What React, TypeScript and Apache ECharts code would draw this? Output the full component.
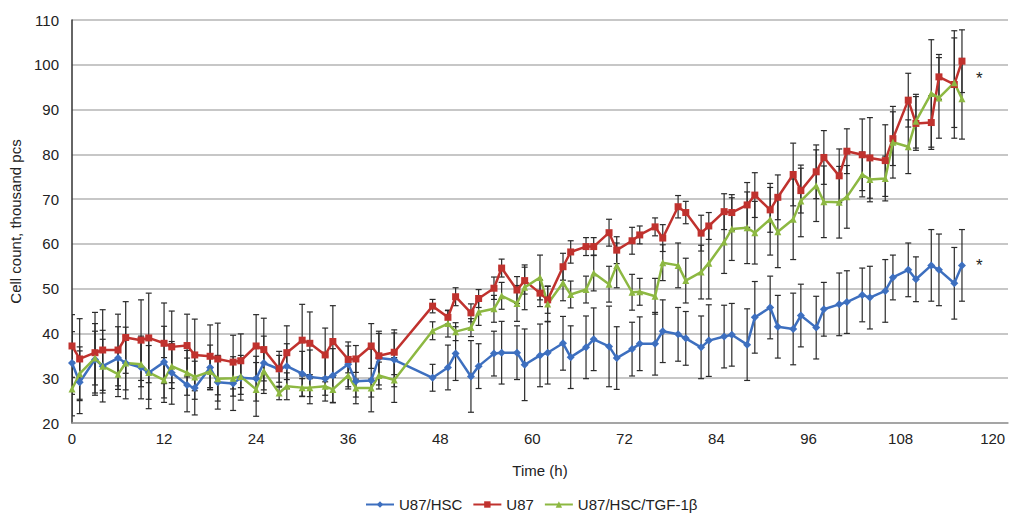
import React, { useEffect, useRef } from "react";
import * as echarts from "echarts";

const times = [0,1,3,4,6,7,9,10,12,13,15,16,18,19,21,22,24,25,27,28,30,31,33,34,36,37,39,40,42,47,49,50,52,53,55,56,58,59,61,62,64,65,67,68,70,71,73,74,76,77,79,80,82,83,85,86,88,89,91,92,94,95,97,98,100,101,103,104,106,107,109,110,112,113,115,116];

const u87hsc = [33.4,29.1,34.2,32.7,34.5,33.4,32.4,31.2,33.6,31.2,28.5,27.8,32.4,29.1,28.8,30.1,29.9,33.4,32.0,32.7,31.0,30.3,29.9,30.6,33.1,29.3,29.5,34.5,34.1,30.1,32.4,35.5,30.4,32.7,35.5,35.7,35.7,33.0,35.1,35.7,37.8,34.7,36.9,38.7,37.1,34.5,36.5,37.7,37.7,40.5,39.8,38.9,36.9,38.4,39.3,39.7,37.5,43.6,45.8,41.5,41.0,44.0,41.3,45.4,46.5,47.0,48.6,48.0,49.5,52.5,54.2,52.1,55.2,54.2,51.2,55.2];
const u87 = [37.2,34.3,35.7,36.3,36.3,39.1,38.5,39.0,37.8,37.0,37.3,35.2,34.9,34.3,33.6,33.9,37.2,36.4,32.1,35.7,38.5,37.8,35.2,38.2,34.2,34.3,37.2,35.0,35.8,46.1,43.6,48.2,44.6,47.8,50.1,54.6,49.7,51.8,49.0,47.5,54.9,58.2,59.4,59.4,62.5,58.6,60.7,62.0,63.8,61.3,68.3,67.0,62.4,64.0,67.2,67.0,68.7,70.9,67.6,70.4,75.5,71.9,76.1,79.3,75.2,80.7,79.9,79.2,78.6,83.5,92.1,86.9,87.1,97.3,95.6,100.8];
const u87tgf = [27.6,31.0,34.5,32.7,30.9,33.4,33.1,31.3,29.6,32.7,31.2,30.3,31.5,29.9,30.0,30.4,27.5,31.6,26.7,28.2,27.9,27.9,28.2,27.5,30.6,27.8,27.8,30.6,29.6,40.6,42.2,40.4,41.3,44.8,45.5,48.4,46.7,50.3,52.5,46.6,51.3,48.7,49.8,53.5,51.0,55.2,49.2,49.3,48.3,55.8,55.2,51.8,53.7,55.7,60.4,63.3,63.6,62.5,65.5,62.7,65.5,69.6,73.0,69.4,69.3,70.5,75.5,74.4,74.6,82.7,81.7,87.4,93.6,92.6,96.0,92.4];

const errHsc = [7,7,8,8,7,8,7,8,8,7,6,6,5,6,6,5,5,6,4,5,5,6,5,6,5,5,7,6,6,3,5,6,8,5,5,7,6,8,7,7,6,7,7,7,9,7,6,6,7,7,6,6,7,8,7,7,8,8,7,7,8,7,7,6,7,7,6,7,7,5,6,5,8,8,8,8];
const errU87 = [7,9,9,9,8,8,9,10,9,8,7,8,7,8,6,6,7,7,3,6,8,7,6,8,3,3,5,5,5,1.5,1.5,2,2,2,2.5,2,3,3,3,3,3,2.5,2,2,3,3,3,2,2,3,2.5,2.5,4,3,4,4,5,5,5,5,7,5,6,6,6,5,8,9,8,6,6,6,6,5,12,7];
const errTgf = [6,6,6,6,5,6,5,6,5,5,5,5,4,5,4,4,6,5,1.5,3,2,2,2,3,3,2,2,3,5,2,3,2,2,3,3,3,4,5,5,4,4,3,3,4,4,5,4,3,4,4,5,5,6,8,7,7,8,7,8,8,9,8,8,8,8,7,5,5,5,8,6,6,12,9,10,9];

const xTicks = [0, 12, 24, 36, 48, 60, 72, 84, 96, 108, 120];
const names = ["U87/HSC", "U87", "U87/HSC/TGF-1\u03b2"];
const colors = ["#3d6fbf", "#c0322e", "#8db842"];

const FONT = "Liberation Sans, Arial, sans-serif";

function errSeries(name: string, vals: number[], errs: number[]) {
  return {
    name,
    type: "custom",
    clip: true,
    z: 1,
    encode: { x: 0, y: [1, 2] },
    data: times.map((t, i) => [t, vals[i] - errs[i], vals[i] + errs[i]]),
    renderItem: (params: any, api: any) => {
      const x = api.value(0);
      const lo = api.value(1);
      const hi = api.value(2);
      const p1 = api.coord([x, hi]);
      const p2 = api.coord([x, lo]);
      const w = 3;
      const style = { stroke: "#2a2a2a", lineWidth: 1.2 };
      return {
        type: "group",
        children: [
          { type: "line", shape: { x1: p1[0], y1: p1[1], x2: p2[0], y2: p2[1] }, style },
          { type: "line", shape: { x1: p1[0] - w, y1: p1[1], x2: p1[0] + w, y2: p1[1] }, style },
          { type: "line", shape: { x1: p2[0] - w, y1: p2[1], x2: p2[0] + w, y2: p2[1] }, style },
        ],
      };
    },
  };
}

function lineSeries(idx: number, vals: number[], symbol: string, size: number) {
  return {
    name: names[idx],
    type: "line",
    z: 3,
    symbol,
    symbolSize: size,
    showSymbol: true,
    color: colors[idx],
    lineStyle: { width: 2.5, color: colors[idx] },
    itemStyle: { color: colors[idx] },
    data: times.map((t, i) => [t, vals[i]]),
  };
}

export default function App() {
  const ref = useRef<HTMLDivElement>(null);
  useEffect(() => {
    if (!ref.current) return;
    const chart = echarts.init(ref.current, undefined, { renderer: "svg" });
    chart.setOption({
      animation: false,
      backgroundColor: "#ffffff",
      textStyle: { fontFamily: FONT },
      grid: { left: 72, right: 1, top: 20, bottom: 93 },
      legend: {
        data: names,
        left: 360,
        top: 492,
        itemWidth: 28,
        itemHeight: 8,
        itemGap: 10,
        textStyle: { fontSize: 15, color: "#222", fontFamily: FONT },
      },
      xAxis: {
        type: "value",
        min: 0,
        max: 122,
        interval: 12,
        name: "Time (h)",
        nameLocation: "middle",
        nameGap: 40,
        nameTextStyle: { fontSize: 15, color: "#222", fontFamily: FONT },
        axisLine: { show: true, lineStyle: { color: "#9a9a9a", width: 1.5 } },
        axisTick: { show: false },
        splitLine: { show: false },
        axisLabel: {
          fontSize: 15,
          color: "#222",
          margin: 8,
          fontFamily: FONT,
          formatter: (v: number) => (xTicks.indexOf(v) >= 0 ? String(v) : ""),
        },
      },
      yAxis: {
        type: "value",
        min: 20,
        max: 110,
        interval: 10,
        name: "Cell count, thousand pcs",
        nameLocation: "middle",
        nameRotate: 90,
        nameGap: 47,
        nameTextStyle: { fontSize: 15, color: "#222", fontFamily: FONT },
        axisLine: { show: true, lineStyle: { color: "#333", width: 1.5 } },
        axisTick: { show: false },
        splitLine: { show: true, lineStyle: { color: "#b4b4b4", width: 1.5 } },
        axisLabel: { fontSize: 15, color: "#222", margin: 13, fontFamily: FONT },
      },
      graphic: [
        { type: "text", left: 976, top: 70, style: { text: "*", fontSize: 17, fill: "#222", fontFamily: FONT } },
        { type: "text", left: 976, top: 257, style: { text: "*", fontSize: 17, fill: "#222", fontFamily: FONT } },
      ],
      series: [
        errSeries("errHsc", u87hsc, errHsc),
        errSeries("errU87", u87, errU87),
        errSeries("errTgf", u87tgf, errTgf),
        lineSeries(0, u87hsc, "diamond", 8),
        lineSeries(1, u87, "rect", 7),
        lineSeries(2, u87tgf, "triangle", 7),
      ],
    });
    return () => chart.dispose();
  }, []);
  return (
    <div
      ref={ref}
      style={{ position: "fixed", left: 0, top: 0, width: 1011, height: 516 }}
    />
  );
}
